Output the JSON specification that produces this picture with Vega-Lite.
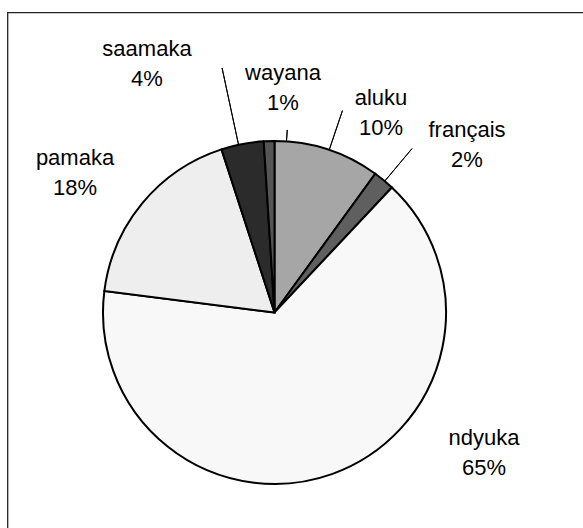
{
  "$schema": "https://vega.github.io/schema/vega-lite/v6.json",
  "width": 575.5,
  "height": 515.5,
  "padding": {"left": 7.5, "top": 12.5, "right": 0, "bottom": 0},
  "autosize": {"type": "none"},
  "view": {"stroke": "#222222", "strokeWidth": 1.3, "strokeDash": [575.5, 1091, 515.5]},
  "config": {
    "text": {"font": "Liberation Sans", "fontSize": 22, "lineHeight": 30, "align": "center", "baseline": "middle", "dy": -15, "color": "#000000"}
  },
  "data": {
    "values": [
      {"name": "aluku", "pct": 10},
      {"name": "français", "pct": 2},
      {"name": "ndyuka", "pct": 65},
      {"name": "pamaka", "pct": 18},
      {"name": "saamaka", "pct": 4},
      {"name": "wayana", "pct": 1}
    ]
  },
  "transform": [
    {"stack": "pct", "groupby": [], "sort": [{"field": "name", "order": "ascending"}], "as": ["s0", "s1"]},
    {"calculate": "(datum.s0 + datum.s1) / 2", "as": "mid"},
    {"calculate": "datum.name + '\\n' + datum.pct + '%'", "as": "label"}
  ],
  "layer": [
    {
      "mark": {"type": "arc", "radius": 171.5, "x": 267, "y": 300, "stroke": "#000000", "strokeWidth": 2},
      "encoding": {
        "theta": {"field": "s0", "type": "quantitative", "stack": null, "scale": {"domain": [0, 100]}},
        "theta2": {"field": "s1"},
        "color": {
          "field": "name", "type": "nominal", "legend": null,
          "scale": {
            "domain": ["aluku", "français", "ndyuka", "pamaka", "saamaka", "wayana"],
            "range": ["#a6a6a6", "#5f5f5f", "#f8f8f8", "#eeeeee", "#2b2b2b", "#555555"]
          }
        }
      }
    },
    {
      "transform": [{"filter": "datum.name == 'saamaka'"}],
      "mark": {"type": "arc", "filled": false, "stroke": "#000000", "strokeWidth": 1, "radius": 250, "radius2": 171.5, "x": 267, "y": 300, "thetaOffset": -0.0227, "theta2Offset": -0.0227},
      "encoding": {"theta": {"field": "mid", "type": "quantitative", "stack": null}, "theta2": {"field": "mid"}}
    },
    {
      "transform": [{"filter": "datum.name == 'wayana'"}],
      "mark": {"type": "arc", "filled": false, "stroke": "#000000", "strokeWidth": 1, "radius": 183, "radius2": 171.5, "x": 267, "y": 300, "thetaOffset": 0.1012, "theta2Offset": 0.1012},
      "encoding": {"theta": {"field": "mid", "type": "quantitative", "stack": null}, "theta2": {"field": "mid"}}
    },
    {
      "transform": [{"filter": "datum.name == 'aluku'"}],
      "mark": {"type": "arc", "filled": false, "stroke": "#000000", "strokeWidth": 1, "radius": 213, "radius2": 171.5, "x": 267, "y": 300, "thetaOffset": 0.0105, "theta2Offset": 0.0105},
      "encoding": {"theta": {"field": "mid", "type": "quantitative", "stack": null}, "theta2": {"field": "mid"}}
    },
    {
      "transform": [{"filter": "datum.name == 'français'"}],
      "mark": {"type": "arc", "filled": false, "stroke": "#000000", "strokeWidth": 1, "radius": 214, "radius2": 171.5, "x": 267, "y": 300, "thetaOffset": 0.007, "theta2Offset": 0.007},
      "encoding": {"theta": {"field": "mid", "type": "quantitative", "stack": null}, "theta2": {"field": "mid"}}
    },
    {
      "transform": [{"filter": "datum.name == 'wayana'"}],
      "mark": {"type": "text", "x": 267, "y": 300, "radius": 224.7, "thetaOffset": 0.0693, "lineBreak": "\n"},
      "encoding": {"theta": {"field": "mid", "type": "quantitative", "stack": null}, "text": {"field": "label"}}
    },
    {
      "transform": [{"filter": "datum.name == 'aluku'"}],
      "mark": {"type": "text", "x": 267, "y": 300, "radius": 226.1, "thetaOffset": 0.1763, "lineBreak": "\n"},
      "encoding": {"theta": {"field": "mid", "type": "quantitative", "stack": null}, "text": {"field": "label"}}
    },
    {
      "transform": [{"filter": "datum.name == 'français'"}],
      "mark": {"type": "text", "x": 267, "y": 300, "radius": 255.2, "thetaOffset": 0.1635, "lineBreak": "\n"},
      "encoding": {"theta": {"field": "mid", "type": "quantitative", "stack": null}, "text": {"field": "label"}}
    },
    {
      "transform": [{"filter": "datum.name == 'ndyuka'"}],
      "mark": {"type": "text", "x": 267, "y": 300, "radius": 252.2, "thetaOffset": -0.6344, "lineBreak": "\n"},
      "encoding": {"theta": {"field": "mid", "type": "quantitative", "stack": null}, "text": {"field": "label"}}
    },
    {
      "transform": [{"filter": "datum.name == 'pamaka'"}],
      "mark": {"type": "text", "x": 267, "y": 300, "radius": 243.4, "thetaOffset": -0.081, "lineBreak": "\n"},
      "encoding": {"theta": {"field": "mid", "type": "quantitative", "stack": null}, "text": {"field": "label"}}
    },
    {
      "transform": [{"filter": "datum.name == 'saamaka'"}],
      "mark": {"type": "text", "x": 267, "y": 300, "radius": 279.3, "thetaOffset": -0.2855, "lineBreak": "\n"},
      "encoding": {"theta": {"field": "mid", "type": "quantitative", "stack": null}, "text": {"field": "label"}}
    }
  ]
}
